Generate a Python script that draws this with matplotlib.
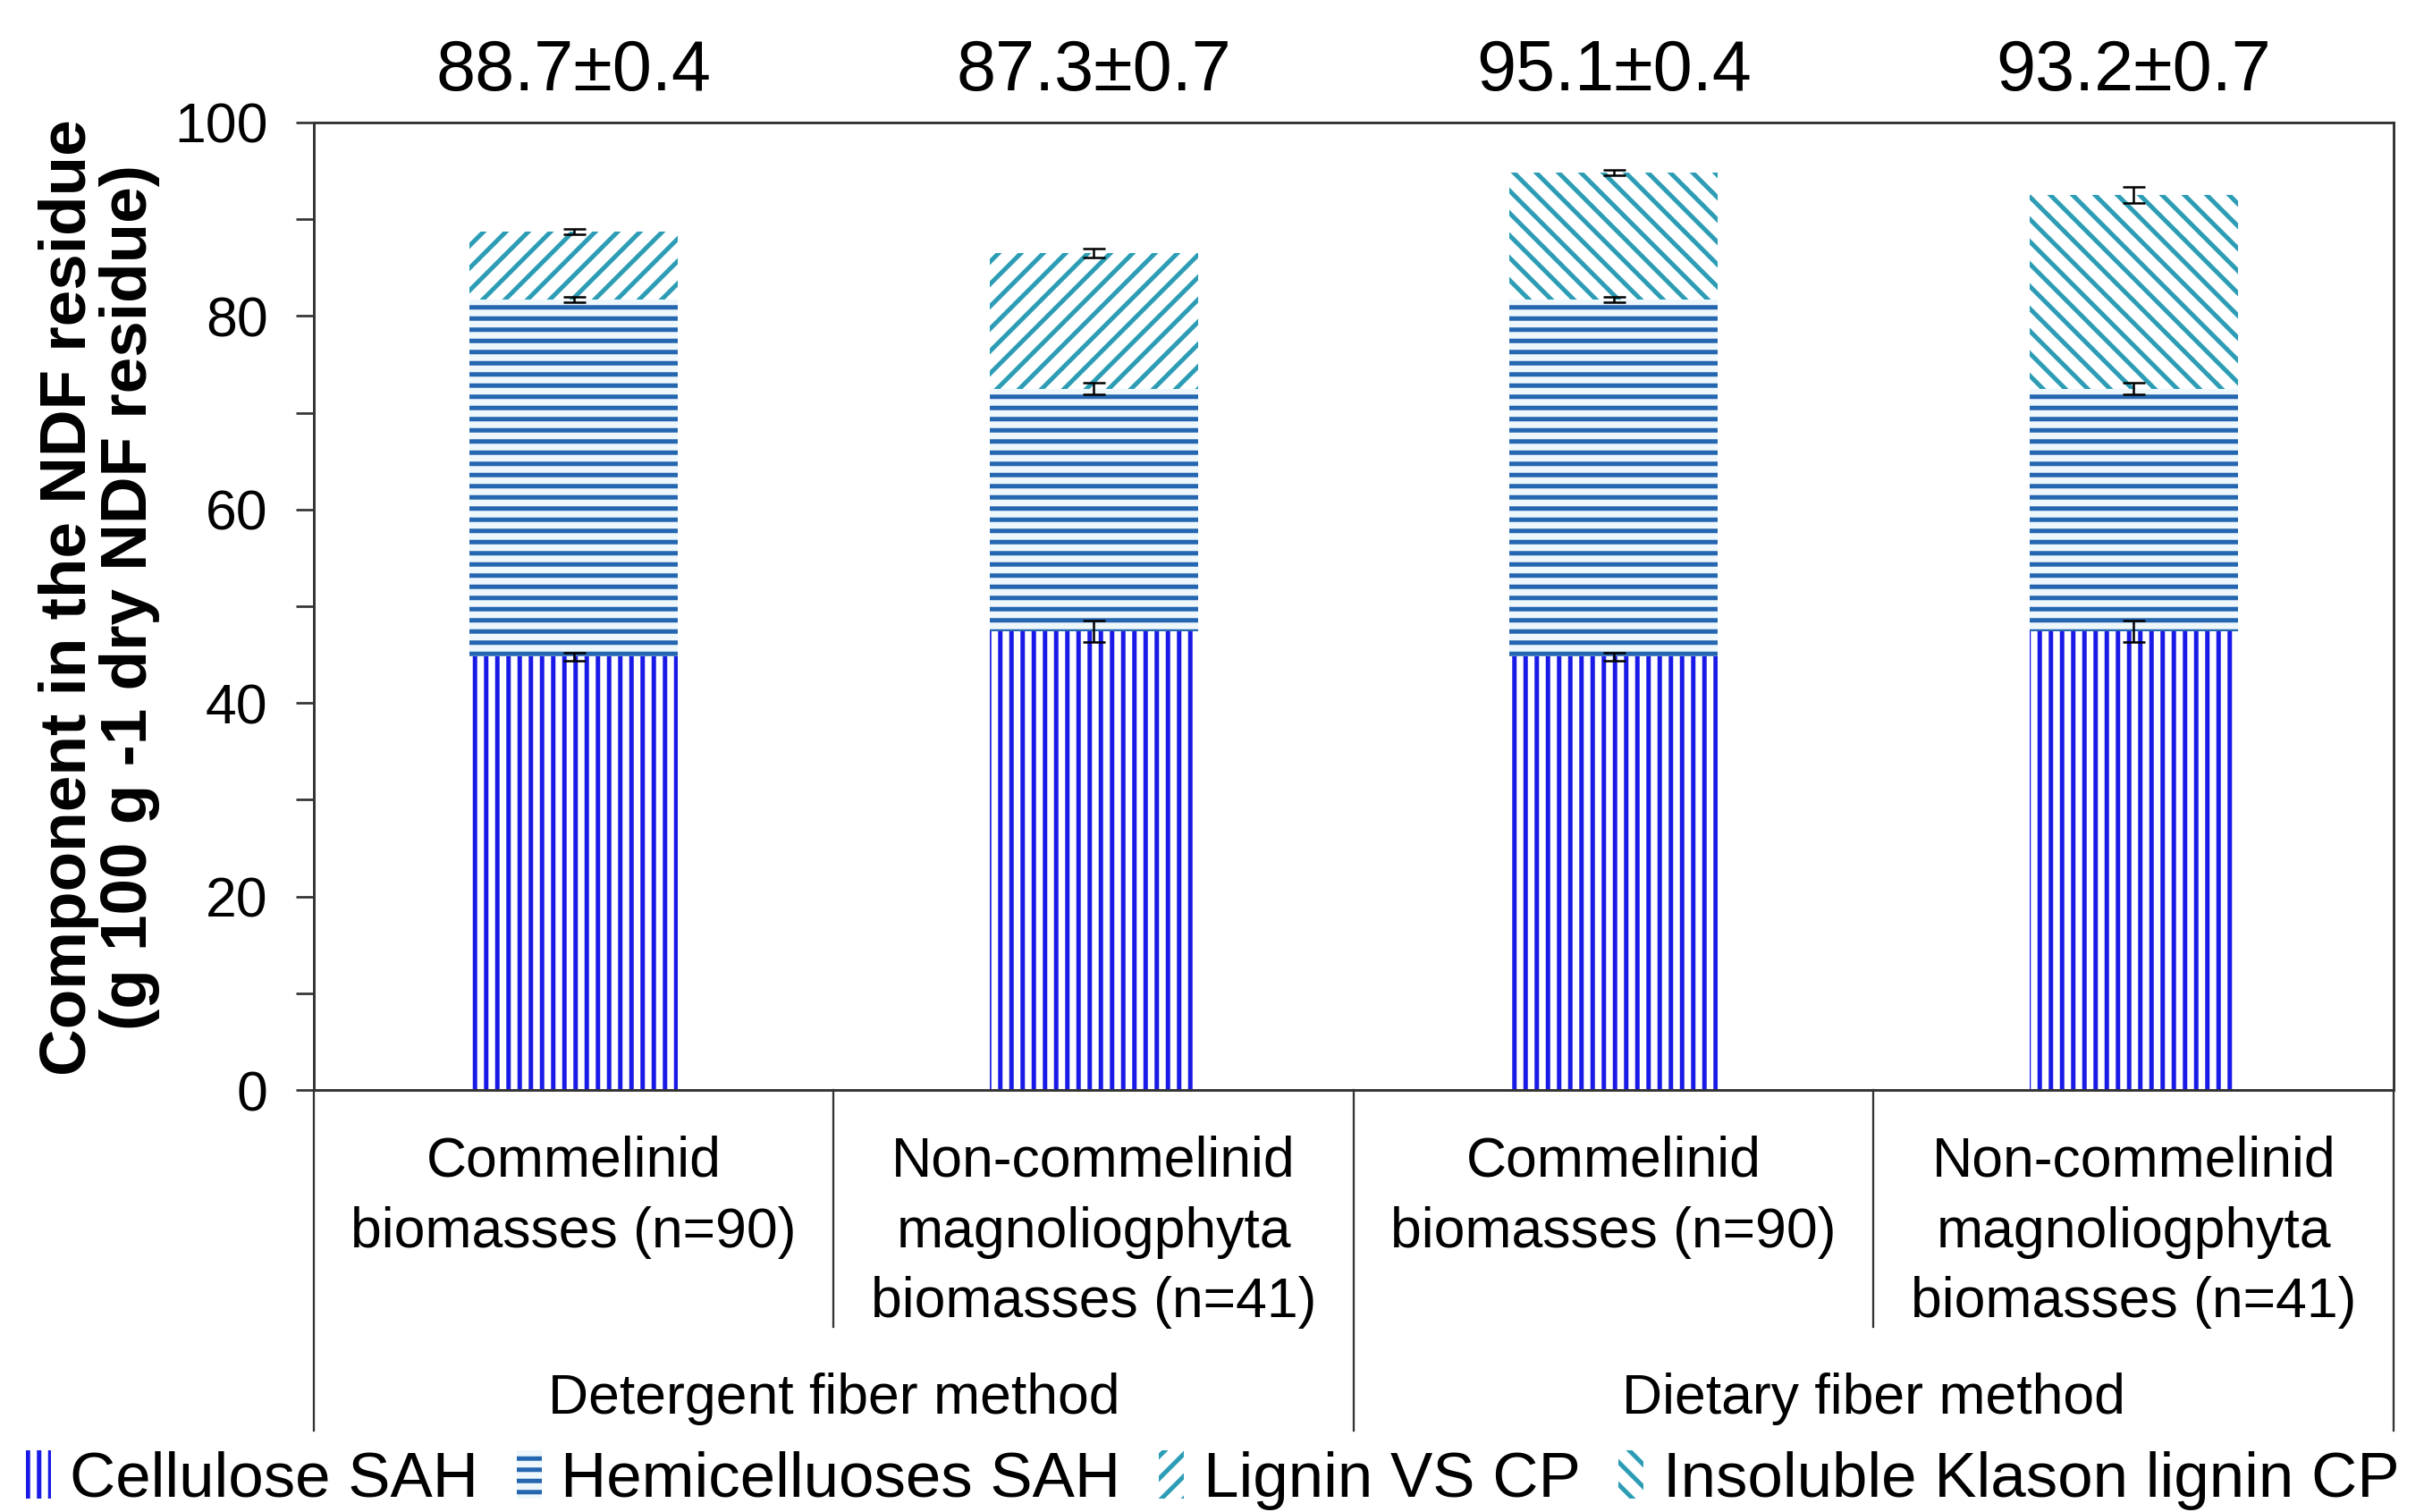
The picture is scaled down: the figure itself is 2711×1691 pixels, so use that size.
import numpy as np
import matplotlib
matplotlib.use('Agg')
import matplotlib.pyplot as plt
import matplotlib.transforms as mtransforms
from matplotlib.patches import Patch

plt.rcParams['font.family'] = ['Liberation Sans', 'DejaVu Sans']
plt.rcParams['hatch.linewidth'] = 2.4

# data
categories = ['Commelinid\nbiomasses (n=90)',
              'Non-commelinid\nmagnoliogphyta\nbiomasses (n=41)',
              'Commelinid\nbiomasses (n=90)',
              'Non-commelinid\nmagnoliogphyta\nbiomasses (n=41)']
groups = ['Detergent fiber method', 'Dietary fiber method']
totals_text = ['88.7\u00b10.4', '87.3\u00b10.7', '95.1\u00b10.4', '93.2\u00b10.7']

cellulose = [44.8, 47.4, 44.8, 47.4]
cellulose_err = [0.4, 1.1, 0.4, 1.1]
hemicellulose = [36.9, 25.1, 36.9, 25.1]
hemicellulose_err = [0.3, 0.6, 0.3, 0.6]
lignin_vs = [7.0, 14.0, 0.0, 0.0]
klason = [0.0, 0.0, 13.1, 20.0]
lignin_err = [0.3, 0.5, 0.3, 0.8]

series_names = ['Cellulose SAH', 'Hemicelluoses SAH', 'Lignin VS CP',
                'Insoluble Klason lignin CP']

x = np.arange(len(categories))
w = 0.40

c_cell = '#1a1ae6'
c_hemi = '#2566b0'
c_lig = '#2c9db5'

fig = plt.figure(figsize=(2712 / 150, 1691 / 150), dpi=150)
ax = fig.add_axes([0.1294, 0.2791, 0.8577, 0.6399])

cell = np.array(cellulose)
hemi = np.array(hemicellulose)
lvs = np.array(lignin_vs)
kl = np.array(klason)

ax.bar(x, cell, w, facecolor='white', edgecolor=c_cell, hatch='||', linewidth=0)
ax.bar(x, hemi, w, bottom=cell, facecolor='#eef7fc', edgecolor=c_hemi,
       hatch='--', linewidth=0)
ax.bar(x, lvs, w, bottom=cell + hemi, facecolor='white', edgecolor=c_lig,
       hatch='//', linewidth=0)
ax.bar(x, kl, w, bottom=cell + hemi, facecolor='white', edgecolor=c_lig,
       hatch='\\\\', linewidth=0)

# error bars at the top of each segment
eb = dict(fmt='none', ecolor='black', elinewidth=1.2, capsize=6, capthick=1.2)
ax.errorbar(x, cell, yerr=cellulose_err, **eb)
ax.errorbar(x, cell + hemi, yerr=hemicellulose_err, **eb)
ax.errorbar(x, cell + hemi + lvs + kl, yerr=lignin_err, **eb)

ax.set_xlim(-0.5, 3.5)
ax.set_ylim(0, 100)
ax.set_yticks(np.arange(0, 101, 20))
ax.set_yticks(np.arange(10, 100, 20), minor=True)
ax.set_xticks([])
ax.tick_params(axis='y', which='both', direction='out', length=9.6,
               width=1.3, color='#333333', labelsize=30, pad=15)
for s in ax.spines.values():
    s.set_linewidth(1.4)
    s.set_color('#333333')

trans = mtransforms.blended_transform_factory(ax.transData, ax.transAxes)

# totals above bars
for xi, t in zip(x, totals_text):
    ax.text(xi, 1.052, t, transform=trans, ha='center', va='center',
            fontsize=38)

# multi-level category axis
for xi, lab in zip(x, categories):
    ax.text(xi, -0.047, lab, transform=trans, ha='center', va='top',
            fontsize=30, linespacing=1.43)
for xs in [0.5, 2.5]:
    ax.plot([xs, xs], [0, -0.245], transform=trans, clip_on=False,
            color='#333333', lw=1.1)
for xs in [-0.5, 1.5, 3.5]:
    ax.plot([xs, xs], [0, -0.352], transform=trans, clip_on=False,
            color='#333333', lw=1.1)
for gi, g in enumerate(groups):
    ax.text(gi * 2 + 0.5, -0.319, g, transform=trans, ha='center',
            va='center', fontsize=30)

fig.text(0.041, 0.605,
         'Component in the NDF residue\n(g 100 g -1 dry NDF residue)',
         rotation=90, ha='center', va='center', fontsize=35,
         fontweight='bold', linespacing=1.0)

handles = [Patch(facecolor='white', edgecolor=c_cell, hatch='||', linewidth=0),
           Patch(facecolor='#eef7fc', edgecolor=c_hemi, hatch='--', linewidth=0),
           Patch(facecolor='white', edgecolor=c_lig, hatch='//', linewidth=0),
           Patch(facecolor='white', edgecolor=c_lig, hatch='\\\\', linewidth=0)]
fig.legend(handles, series_names, loc='center', bbox_to_anchor=(0.5, 0.021),
           ncol=4, frameon=False, fontsize=34, handlelength=0.4,
           handleheight=0.8, handletextpad=0.3, columnspacing=0.6,
           borderaxespad=0)

fig.savefig('out.png', dpi=150)
